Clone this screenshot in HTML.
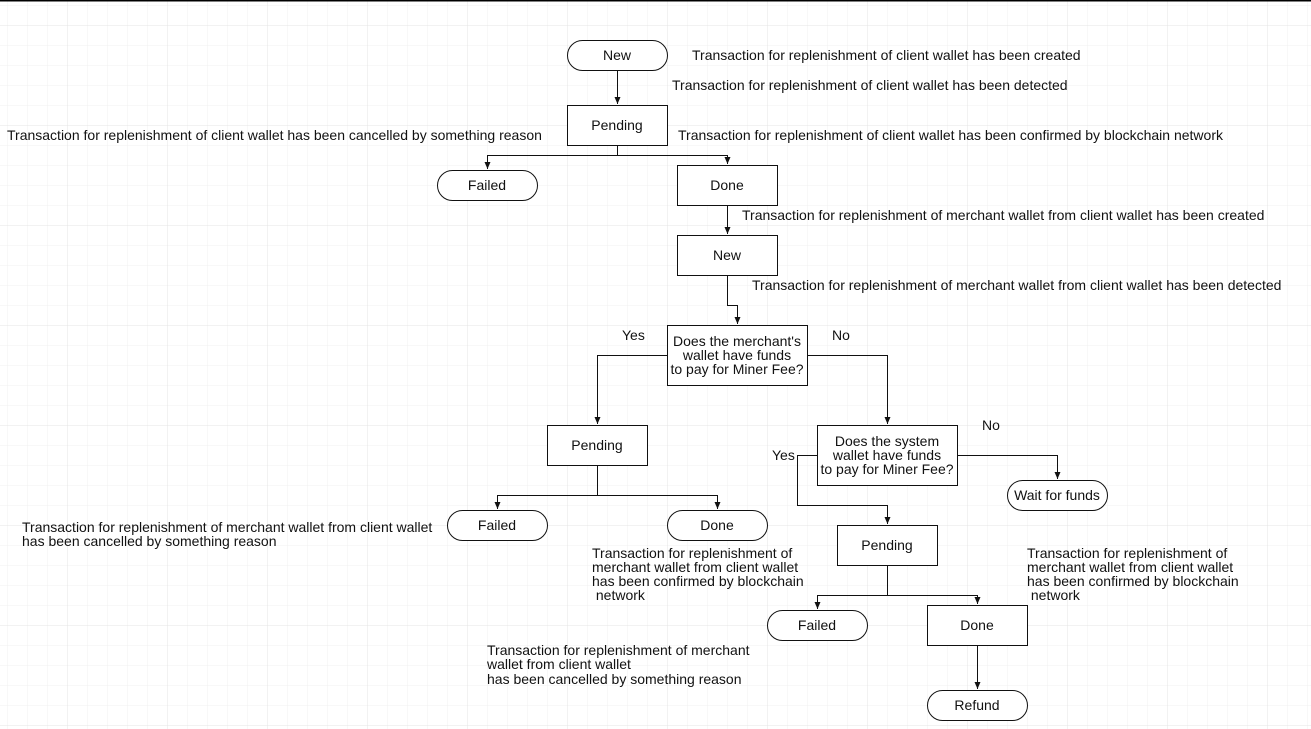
<!DOCTYPE html>
<html><head><meta charset="utf-8"><style>
html,body{margin:0;padding:0;background:#fff}
svg{display:block}
text{font-family:"Liberation Sans",Arial,sans-serif;font-size:14px;fill:#111}
</style></head><body>
<svg width="1311" height="729" viewBox="0 0 1311 729" xmlns="http://www.w3.org/2000/svg">
<defs>
<pattern id="minor" x="7" y="5" width="20" height="20" patternUnits="userSpaceOnUse">
<path d="M0 0H20M0 0V20" stroke="#f0f0f0" stroke-width="1" fill="none"/>
</pattern>
<pattern id="major" x="67" y="25" width="100" height="100" patternUnits="userSpaceOnUse">
<path d="M0 0H100M0 0V100" stroke="#e4e4e4" stroke-width="1" fill="none"/>
</pattern>
<marker id="a" markerWidth="8" markerHeight="8" refX="7" refY="4" orient="auto" markerUnits="userSpaceOnUse">
<path d="M0 1L7 4L0 7Z" fill="#111"/>
</marker>
</defs>
<rect width="1311" height="729" fill="#fff"/>
<rect width="1311" height="729" fill="url(#minor)"/>
<rect width="1311" height="729" fill="url(#major)"/>
<line x1="0" y1="0.5" x2="1311" y2="0.5" stroke="#000" stroke-width="2"/>

<g fill="none" stroke="#111" stroke-width="1">
<path d="M617.5 70V104" marker-end="url(#a)"/>
<path d="M617.5 145V155.5H487.5V169" marker-end="url(#a)"/>
<path d="M617.5 155.5H727.5V164" marker-end="url(#a)"/>
<path d="M727.5 205V234" marker-end="url(#a)"/>
<path d="M727.5 275V305.5H737.5V324" marker-end="url(#a)"/>
<path d="M667 355.5H597.5V424" marker-end="url(#a)"/>
<path d="M807 355.5H887.5V424" marker-end="url(#a)"/>
<path d="M597.5 465V495.5H497.5V509" marker-end="url(#a)"/>
<path d="M597.5 495.5H717.5V509" marker-end="url(#a)"/>
<path d="M957 455.5H1057.5V479" marker-end="url(#a)"/>
<path d="M817 455.5H797.5V505.5H887.5V524" marker-end="url(#a)"/>
<path d="M887.5 565V595.5H817.5V609" marker-end="url(#a)"/>
<path d="M887.5 595.5H977.5V604" marker-end="url(#a)"/>
<path d="M977.5 645V689" marker-end="url(#a)"/>
</g>

<g fill="#fff" stroke="#111" stroke-width="1">
<rect x="567.5" y="40.5" width="100" height="30" rx="15"/>
<rect x="567.5" y="105.5" width="100" height="40"/>
<rect x="437.5" y="170.5" width="100" height="30" rx="15"/>
<rect x="677.5" y="165.5" width="100" height="40"/>
<rect x="677.5" y="235.5" width="100" height="40"/>
<rect x="667.5" y="325.5" width="140" height="60"/>
<rect x="547.5" y="425.5" width="100" height="40"/>
<rect x="447.5" y="510.5" width="100" height="30" rx="15"/>
<rect x="667.5" y="510.5" width="100" height="30" rx="15"/>
<rect x="817.5" y="425.5" width="140" height="60"/>
<rect x="1007.5" y="480.5" width="100" height="30" rx="15"/>
<rect x="837.5" y="525.5" width="100" height="40"/>
<rect x="767.5" y="610.5" width="100" height="30" rx="15"/>
<rect x="927.5" y="605.5" width="100" height="40"/>
<rect x="927.5" y="690.5" width="100" height="30" rx="15"/>
</g>

<g text-anchor="middle">
<text x="617" y="60">New</text>
<text x="617" y="130">Pending</text>
<text x="487" y="190">Failed</text>
<text x="727" y="190">Done</text>
<text x="727" y="260">New</text>
<text x="737" y="346">Does the merchant's</text>
<text x="737" y="360">wallet have funds</text>
<text x="737" y="374">to pay for Miner Fee?</text>
<text x="597" y="450">Pending</text>
<text x="497" y="530">Failed</text>
<text x="717" y="530">Done</text>
<text x="887" y="446">Does the system</text>
<text x="887" y="460">wallet have funds</text>
<text x="887" y="474">to pay for Miner Fee?</text>
<text x="1057" y="500">Wait for funds</text>
<text x="887" y="550">Pending</text>
<text x="817" y="630">Failed</text>
<text x="977" y="630">Done</text>
<text x="977" y="710">Refund</text>
</g>

<text x="692" y="60">Transaction for replenishment of client wallet has been created</text>
<text x="672" y="90">Transaction for replenishment of client wallet has been detected</text>
<text x="7" y="140">Transaction for replenishment of client wallet has been cancelled by something reason</text>
<text x="678" y="140">Transaction for replenishment of client wallet has been confirmed by blockchain network</text>
<text x="742" y="220">Transaction for replenishment of merchant wallet from client wallet has been created</text>
<text x="752" y="290">Transaction for replenishment of merchant wallet from client wallet has been detected</text>
<text x="622" y="340">Yes</text>
<text x="832" y="340">No</text>
<text x="982" y="430">No</text>
<text x="772" y="460">Yes</text>
<text x="22" y="532">Transaction for replenishment of merchant wallet from client wallet</text>
<text x="22" y="546">has been cancelled by something reason</text>
<text x="592" y="558">Transaction for replenishment of</text>
<text x="592" y="572">merchant wallet from client wallet</text>
<text x="592" y="586">has been confirmed by blockchain</text>
<text x="592" y="600" xml:space="preserve"> network</text>
<text x="1027" y="558">Transaction for replenishment of</text>
<text x="1027" y="572">merchant wallet from client wallet</text>
<text x="1027" y="586">has been confirmed by blockchain</text>
<text x="1027" y="600" xml:space="preserve"> network</text>
<text x="487" y="655">Transaction for replenishment of merchant</text>
<text x="487" y="669">wallet from client wallet</text>
<text x="487" y="684">has been cancelled by something reason</text>
</svg>
</body></html>
